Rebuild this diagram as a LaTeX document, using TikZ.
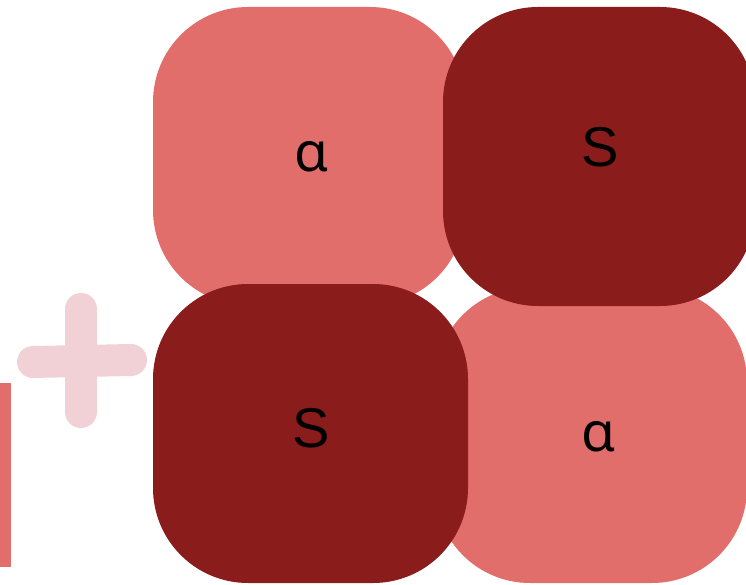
\documentclass[tikz,border=0pt]{standalone}
\usepackage{fontspec}
\setmainfont{Noto Sans}
\newfontfamily\letterfont{Liberation Sans}
\definecolor{tilelight}{HTML}{E26E6C}
\definecolor{tiledark}{HTML}{8A1C1B}
\definecolor{crosspink}{HTML}{F1D1D6}
\tikzset{
  tile/.style={rectangle, rounded corners=95pt, inner sep=0pt, draw=none},
  lighttile/.style={tile, fill=tilelight},
  darktile/.style={tile, fill=tiledark},
  glyph/.style={anchor=base, inner sep=0pt, text=black,
                font=\fontsize{55}{60}\selectfont},
  capglyph/.style={glyph, font=\letterfont\fontsize{56}{60}\selectfont},
  crossstroke/.style={crosspink, line width=32pt, line cap=round}
}
\begin{document}
\begin{tikzpicture}[x=1pt, y=-1pt]
  \path[use as bounding box] (0,0) rectangle (746,585);
  \clip (0,0) rectangle (746,585);

  % light tiles go underneath
  \node[lighttile, minimum width=312pt, minimum height=298pt] (tl) at (309,156) {};
  \node[lighttile, minimum width=312pt, minimum height=296pt] (br) at (591,435) {};
  % dark tiles on top
  \node[darktile, minimum width=312pt, minimum height=299pt] (tr) at (599,156.5) {};
  \node[darktile, minimum width=315pt, minimum height=299pt] (bl) at (310.5,433.5) {};

  % letters
  \node[glyph] (tlt) at (312,172) {α};
  \node[capglyph] (trt) at (600,167) {S};
  \node[capglyph] (blt) at (311,447) {S};
  \node[glyph] (brt) at (599,451) {α};

  % hand-drawn plus sign
  \coordinate (pt) at (81,309);
  \coordinate (pb) at (81,412);
  \coordinate (pl) at (33,362);
  \coordinate (pr) at (131,360);
  \draw[crossstroke] (pt) -- (pb);
  \draw[crossstroke] (pl) -- (pr);

  % bar at the left edge
  \fill[tilelight] (0,383) rectangle (11,567);
\end{tikzpicture}
\end{document}
